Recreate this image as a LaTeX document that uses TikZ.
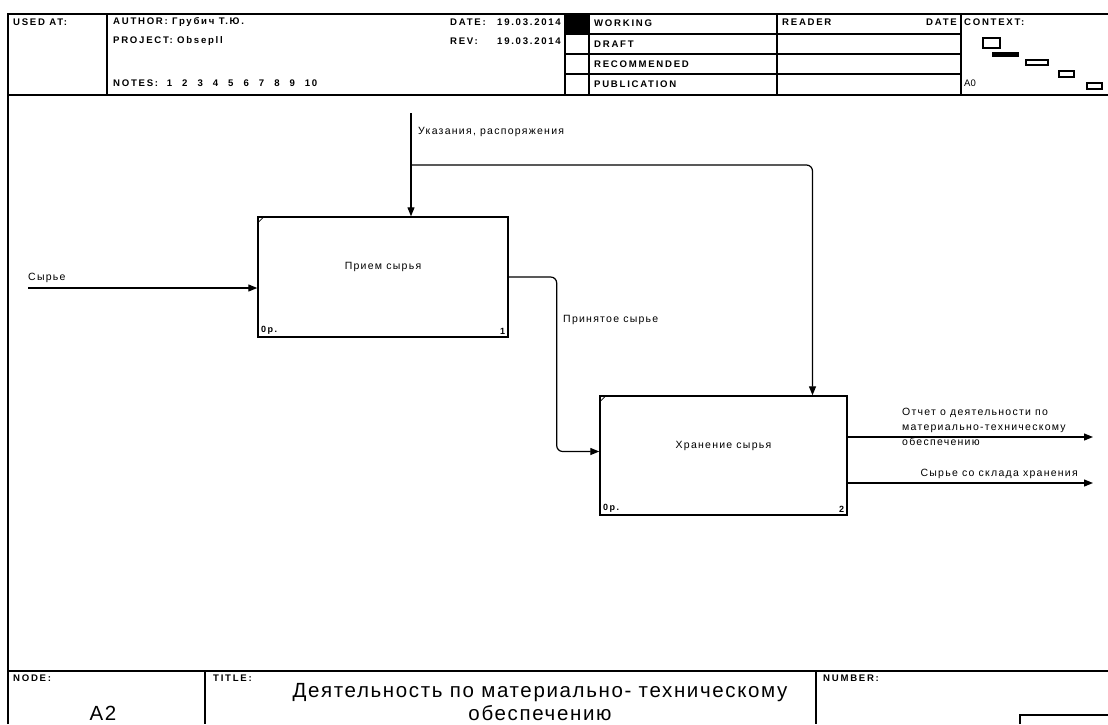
\documentclass[tikz,border=0pt]{standalone}
\usepackage{fontspec}
\setmainfont{Liberation Sans}
\newfontfamily\hdrfont[LetterSpace=18]{Liberation Sans}
\newfontfamily\lblfont[LetterSpace=12]{Liberation Sans}
\newfontfamily\ttlfont[LetterSpace=8]{Liberation Sans}
\usetikzlibrary{arrows.meta,positioning}

\newcommand\ngap{\hspace{10pt}}

\begin{document}
\begin{tikzpicture}[x=1pt, y=-1pt,
    frame/.style={line width=1.4pt},
    hdr/.style={anchor=west, inner sep=0pt, font=\hdrfont\bfseries\fontsize{9.6}{12}\selectfont},
    func/.style={draw, line width=1.4pt, minimum width=250pt, minimum height=120pt, inner sep=0pt},
    fname/.style={inner sep=0pt, font=\lblfont\fontsize{10.5}{12}\selectfont},
    cost/.style={inner sep=3.5pt, font=\hdrfont\bfseries\fontsize{9}{11}\selectfont},
    flow/.style={line width=1.2pt, -{Triangle[length=9pt,width=7pt]}},
    lbl/.style={inner sep=0pt, font=\lblfont\fontsize{10.5}{15}\selectfont},
    big/.style={inner sep=0pt, font=\ttlfont\fontsize{20.5}{23}\selectfont}
]
\useasboundingbox (0,0) rectangle (1108,724);

\draw[frame] (8,724) -- (8,14) -- (1108,14);
\draw[frame] (8,95) -- (1108,95);
\draw[frame] (8,671) -- (1108,671);
\foreach \xv in {107,565,589,777,961}
    \draw[frame] (\xv,14) -- (\xv,95);
\foreach \yv in {34,54,74}
    \draw[frame] (565,\yv) -- (961,\yv);
\fill (565,14) rectangle (589,34);
\draw[frame] (205,671) -- (205,724);
\draw[frame] (816,671) -- (816,724);
\draw[frame] (1020,724) -- (1020,715) -- (1108,715);

\node[hdr] (used_at) at (13,22) {USED AT:};
\node[hdr] (author) at (113,22) {AUTHOR: Грубич Т.Ю.};
\node[hdr] (project) at (113,41) {PROJECT: Obsepll};
\node[hdr] (notes) at (113,83) {NOTES:\ \ 1\ngap 2\ngap 3\ngap 4\ngap 5\ngap 6\ngap 7\ngap 8\ngap 9\ngap 10};
\node[hdr] (date_lbl) at (450,22) {DATE:};
\node[hdr, anchor=east] (date_val) at (561,22) {19.03.2014};
\node[hdr] (rev_lbl) at (450,41) {REV:};
\node[hdr, anchor=east] (rev_val) at (561,41) {19.03.2014};
\node[hdr] (working) at (594,23) {WORKING};
\node[hdr] (draft) at (594,44) {DRAFT};
\node[hdr] (recommended) at (594,64) {RECOMMENDED};
\node[hdr] (publication) at (594,84) {PUBLICATION};
\node[hdr] (reader) at (782,22) {READER};
\node[hdr, anchor=east] (reader_date) at (957,22) {DATE};
\node[hdr] (context) at (964,22) {CONTEXT:};
\node[hdr, font=\fontsize{9.5}{11}\selectfont] (ctx_node) at (964,83) {A0};

\draw[line width=1.3pt] (983,38) rectangle (1000,48);
\fill (992,52) rectangle (1019,57);
\draw[line width=1.3pt] (1026,60) rectangle (1048,65);
\draw[line width=1.3pt] (1059,71) rectangle (1074,77);
\draw[line width=1.3pt] (1087,83) rectangle (1102,89);

\node[hdr] (node_lbl) at (13,678) {NODE:};
\node[hdr] (title_lbl) at (213,678) {TITLE:};
\node[hdr] (number_lbl) at (823,678) {NUMBER:};
\node[big] (node_no) at (103,713) {A2};
\node[big, align=center] (title) at (540,702) {Деятельность по материально- техническому\\обеспечению};

\node[func] (a1) at (383,277) {};
\node[fname] (a1_name) at ([yshift=10pt]a1.center) {Прием сырья};
\node[cost, anchor=south west] (a1_cost) at (a1.south west) {0р.};
\node[cost, anchor=south east] (a1_no) at (a1.south east) {1};
\draw[line width=0.8pt] ([yshift=-7pt]a1.north west) -- ([xshift=7pt]a1.north west);

\node[func, minimum width=247pt, minimum height=119pt] (a2) at (723.5,455.5) {};
\node[fname] (a2_name) at ([yshift=10pt]a2.center) {Хранение сырья};
\node[cost, anchor=south west] (a2_cost) at (a2.south west) {0р.};
\node[cost, anchor=south east] (a2_no) at (a2.south east) {2};
\draw[line width=0.8pt] ([yshift=-7pt]a2.north west) -- ([xshift=7pt]a2.north west);

\coordinate (raw_in) at (28,288);
\coordinate (ctl_in) at (411,113);
\coordinate (ctl_br) at (411,165);
\coordinate (a2_ctl) at ([xshift=89pt]a2.north);
\coordinate (report_out) at (1093,437);
\coordinate (stock_out) at (1093,483);

\draw[flow] (raw_in) -- (raw_in -| a1.west);
\draw[flow] (ctl_in) -- (ctl_in |- a1.north);
\draw[flow, rounded corners=6pt] (ctl_br) -- (ctl_br -| a2_ctl) -- (a2_ctl);
\draw[flow, rounded corners=6pt] (a1.east) -- ++(48,0) |- ([yshift=4pt]a2.west);
\draw[flow] (a2.east |- report_out) -- (report_out);
\draw[flow] (a2.east |- stock_out) -- (stock_out);

\node[lbl, anchor=west] (raw_lbl) at (28,278) {Сырье};
\node[lbl, anchor=west] (ctl_lbl) at (418,132) {Указания, распоряжения};
\node[lbl, anchor=west] (accepted_lbl) at (563,320) {Принятое сырье};
\node[lbl, anchor=west, align=left] (report_lbl) at (902,427) {Отчет о деятельности по\\материально-техническому\\обеспечению};
\node[lbl, anchor=east] (stock_lbl) at (1078,474) {Сырье со склада хранения};

\end{tikzpicture}
\end{document}
